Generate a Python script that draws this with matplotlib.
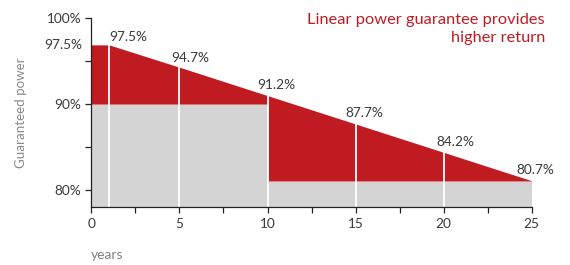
import numpy as np
import matplotlib.pyplot as plt

plt.rcParams['font.family'] = ['Lato', 'DejaVu Sans']

# linear guarantee as drawn (year, % power)
lin_years = [0, 1, 5, 10, 15, 20, 25]
lin_power = [96.9, 96.9, 94.3, 91.0, 87.7, 84.4, 81.1]
lin_labels = ['97.5%', '94.7%', '91.2%', '87.7%', '84.2%', '80.7%']
label_years = [1, 5, 10, 15, 20, 25]

# standard step guarantee
std_years = [0, 10, 10, 25]
std_power = [90, 90, 81.1, 81.1]

red = '#c11b22'
grey = '#d4d4d4'
txt = '#3a3a3a'

fig = plt.figure(figsize=(5.7, 2.65), dpi=100)
ax = fig.add_axes([0.1605, 0.2177, 0.772, 0.7135])
ymin = 78.0

xs = np.array([0, 1, 5, 10, 10, 15, 20, 25], dtype=float)
top = np.interp(xs, lin_years, lin_power)
bottom = np.array([90, 90, 90, 90, 81.1, 81.1, 81.1, 81.1])

ax.fill_between(std_years, ymin, std_power, color=grey, lw=0)
ax.fill_between(xs, bottom, top, color=red, lw=0)
ax.plot(xs, bottom, color='#e07a7e', lw=0.6)

for yr in [1, 5, 10, 15, 20]:
    ax.vlines(yr, ymin, np.interp(yr, lin_years, lin_power), color='white', lw=1.3)

# label placement tweaks (x shift, y gap)
offsets = [1.1, 0.6, 0.5, 0.5, 0.7, 0.2]
gaps = [0.25, 0.4, 0.5, 0.6, 0.5, 0.6]
for yr, lab, off, g in zip(label_years, lin_labels, offsets, gaps):
    y = np.interp(yr, lin_years, lin_power)
    ax.text(yr + off, y + g, lab, ha='center', va='bottom', fontsize=9.8, color=txt)

ax.set_xlim(0, 25)
ax.set_ylim(ymin, 100)
ax.set_xticks([0, 5, 10, 15, 20, 25])
ax.set_xticks([2.5, 7.5, 12.5, 17.5, 22.5], minor=True)
ax.set_yticks([80, 90, 100])
ax.set_yticklabels(['80%', '90%', '100%'])
ax.set_yticks([85, 95], minor=True)
ax.tick_params(which='both', direction='out', length=4, width=0.9, colors='#222',
               labelcolor=txt, labelsize=9.8)
ax.text(-0.5, lin_power[0], '97.5%', ha='right', va='center', fontsize=9.8, color=txt)

for s in ['top', 'right']:
    ax.spines[s].set_visible(False)
for s in ['left', 'bottom']:
    ax.spines[s].set_color('#222')
    ax.spines[s].set_linewidth(0.9)

ax.set_ylabel('Guaranteed power', fontsize=9.6, color='#8a8a8a', labelpad=14)
fig.text(0.16, 0.038, 'years', fontsize=10, color='#808080', ha='left', va='center')
fig.text(0.956, 0.95, 'Linear power guarantee provides\nhigher return', ha='right', va='top',
         fontsize=11.8, color=red, linespacing=1.3)

fig.savefig('out.png', dpi=100)
